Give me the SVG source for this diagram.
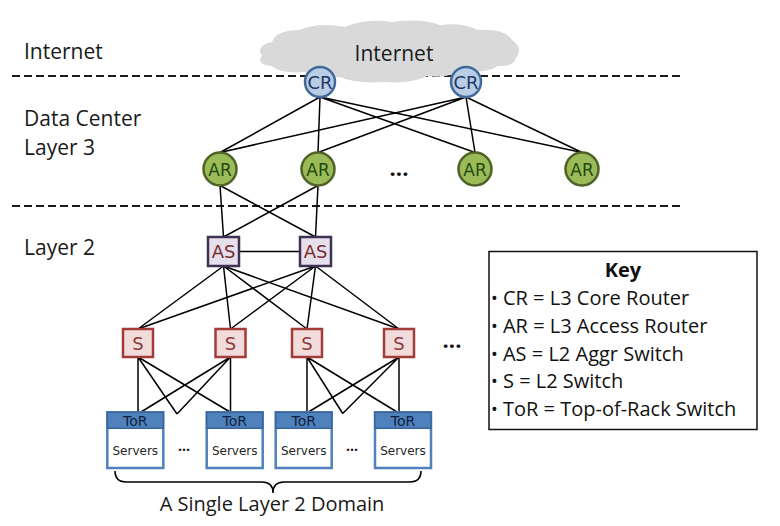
<svg xmlns="http://www.w3.org/2000/svg" width="780" height="526" viewBox="0 0 780 526">
<style>
.lbl{font-family:"Open Sans","Liberation Sans",sans-serif;font-size:21px;fill:#1a1a1a}
.key{font-family:"Open Sans","Liberation Sans",sans-serif;font-size:20px;fill:#111}
.b{font-size:18px}
.dash{stroke:#1a1a1a;stroke-width:2;stroke-dasharray:8 4;fill:none}
.ln{stroke:#000;stroke-width:1.5;fill:none}
.nt{font-family:"DejaVu Sans","Liberation Sans",sans-serif;text-anchor:middle}
.cr{fill:#b9cde5;stroke:#41699b;stroke-width:2.5}
.ar{fill:#9bbb59;stroke:#4f6228;stroke-width:2.5}
.as{fill:#e5e0ec;stroke:#3f3151;stroke-width:2.5}
.s{fill:#f2dcdb;stroke:#a33b38;stroke-width:2.5}
.tb{fill:#fff;stroke:#4f81bd;stroke-width:2.5}
.th{fill:#4f81bd;stroke:#3b659a;stroke-width:1.5}
.dots{font-family:"Open Sans","Liberation Sans",sans-serif;font-weight:bold;text-anchor:middle;fill:#111}
</style>
<rect width="780" height="526" fill="#fff"/>
<g id="layers">
<line class="dash" x1="12" y1="76" x2="680" y2="76"/>
<line class="dash" x1="12" y1="206" x2="680" y2="206"/>
<text class="lbl" x="24" y="59">Internet</text>
<text class="lbl" x="24" y="126">Data Center</text>
<text class="lbl" x="24" y="155">Layer 3</text>
<text class="lbl" x="24" y="255">Layer 2</text>
</g>
<g id="cloud">
<path d="M262,56 Q255,46 272,42 Q276,30 300,30 Q318,22 345,27 Q365,18 392,22 Q420,18 440,25 Q462,22 478,30 Q505,28 512,40 Q524,48 516,58 Q515,66 498,66 Q485,74 460,71 Q445,79 428,76 Q410,84 385,82 Q355,84 340,77 Q320,78 305,72 Q280,74 272,66 Q255,64 262,56 Z" fill="#d9d9d9"/>
<text class="lbl" x="394" y="61" text-anchor="middle">Internet</text>
</g>
<g id="connectors">
<path class="ln" d="M320,97 L220,152.5 M320,97 L318,152.5 M320,97 L475,152.5 M320,97 L582,152.5"/>
<path class="ln" d="M466,97 L220,152.5 M466,97 L318,152.5 M466,97 L475,152.5 M466,97 L582,152.5"/>
<path class="ln" d="M220,185.5 L223.5,237 M220,185.5 L315.5,237 M318,185.5 L223.5,237 M318,185.5 L315.5,237"/>
<path class="ln" d="M239,251.5 L300,251.5"/>
<path class="ln" d="M223.5,266 L138,329 M223.5,266 L230.5,329 M223.5,266 L307,329 M223.5,266 L399,329"/>
<path class="ln" d="M315.5,266 L138,329 M315.5,266 L230.5,329 M315.5,266 L307,329 M315.5,266 L399,329"/>
<path class="ln" d="M138,357 L138,412 M138,357 L177,414 M138,357 L230,412"/>
<path class="ln" d="M230.5,357 L230.5,412 M230.5,357 L177,414 M230.5,357 L141,412"/>
<path class="ln" d="M307,357 L307,412 M307,357 L342.7,413.5 M307,357 L397,412"/>
<path class="ln" d="M399,357 L399,412 M399,357 L342.7,413.5 M399,357 L308.5,412"/>
</g>
<g id="CR1"><circle class="cr" cx="320" cy="82" r="15"/><text class="nt" x="320" y="88.5" font-size="18" fill="#1f3864">CR</text></g>
<g id="CR2"><circle class="cr" cx="466" cy="82" r="15"/><text class="nt" x="466" y="88.5" font-size="18" fill="#1f3864">CR</text></g>
<g id="AR1"><circle class="ar" cx="220" cy="169" r="16.5"/><text class="nt" x="220" y="175.5" font-size="17" fill="#234a10">AR</text></g>
<g id="AR2"><circle class="ar" cx="318" cy="169" r="16.5"/><text class="nt" x="318" y="175.5" font-size="17" fill="#234a10">AR</text></g>
<g id="AR3"><circle class="ar" cx="475" cy="169" r="16.5"/><text class="nt" x="475" y="175.5" font-size="17" fill="#234a10">AR</text></g>
<g id="AR4"><circle class="ar" cx="582" cy="169" r="16.5"/><text class="nt" x="582" y="175.5" font-size="17" fill="#234a10">AR</text></g>
<text class="dots" x="399" y="176" font-size="22">...</text>
<g id="AS1"><rect class="as" x="208" y="237" width="31" height="29"/><text class="nt" x="223.5" y="258" font-size="18" fill="#7b2e2e">AS</text></g>
<g id="AS2"><rect class="as" x="300" y="237" width="31" height="29"/><text class="nt" x="315.5" y="258" font-size="18" fill="#7b2e2e">AS</text></g>
<g id="S1"><rect class="s" x="123" y="329" width="30" height="28"/><text class="nt" x="138" y="349.5" font-size="18" fill="#8b3a3a">S</text></g>
<g id="S2"><rect class="s" x="215.5" y="329" width="30" height="28"/><text class="nt" x="230.5" y="349.5" font-size="18" fill="#8b3a3a">S</text></g>
<g id="S3"><rect class="s" x="292" y="329" width="30" height="28"/><text class="nt" x="307" y="349.5" font-size="18" fill="#8b3a3a">S</text></g>
<g id="S4"><rect class="s" x="384" y="329" width="30" height="28"/><text class="nt" x="399" y="349.5" font-size="18" fill="#8b3a3a">S</text></g>
<text class="dots" x="452" y="348" font-size="22">...</text>
<g id="ToR1"><rect class="tb" x="107.3" y="412.3" width="56" height="55.7"/><rect class="th" x="107.3" y="412.3" width="56" height="16"/><text class="nt" x="135.3" y="426" font-size="14" fill="#0f1f3d">ToR</text><text class="nt" x="135.3" y="454.5" font-size="12" fill="#262626">Servers</text></g>
<g id="ToR2"><rect class="tb" x="206.7" y="412.3" width="56" height="55.7"/><rect class="th" x="206.7" y="412.3" width="56" height="16"/><text class="nt" x="234.7" y="426" font-size="14" fill="#0f1f3d">ToR</text><text class="nt" x="234.7" y="454.5" font-size="12" fill="#262626">Servers</text></g>
<g id="ToR3"><rect class="tb" x="275.7" y="412.3" width="56" height="55.7"/><rect class="th" x="275.7" y="412.3" width="56" height="16"/><text class="nt" x="303.7" y="426" font-size="14" fill="#0f1f3d">ToR</text><text class="nt" x="303.7" y="454.5" font-size="12" fill="#262626">Servers</text></g>
<g id="ToR4"><rect class="tb" x="375" y="412.3" width="56" height="55.7"/><rect class="th" x="375" y="412.3" width="56" height="16"/><text class="nt" x="403" y="426" font-size="14" fill="#0f1f3d">ToR</text><text class="nt" x="403" y="454.5" font-size="12" fill="#262626">Servers</text></g>
<text class="dots" x="184" y="451" font-size="14">...</text>
<text class="dots" x="352" y="451" font-size="14">...</text>
<g id="domain">
<path class="ln" d="M115,471 Q115,482 126,482 L262,482 Q273,482 273,493 Q273,482 284,482 L410,482 Q421,482 421,471"/>
<text class="lbl" x="272" y="511" text-anchor="middle" style="font-size:20px">A Single Layer 2 Domain</text>
</g>
<g id="key">
<rect x="489" y="251.5" width="268" height="178" fill="#fff" stroke="#111" stroke-width="1.5"/>
<text class="key" x="623" y="277" text-anchor="middle" font-weight="bold">Key</text>
<text class="key" x="491" y="305"><tspan class="b">•</tspan> CR = L3 Core Router</text>
<text class="key" x="491" y="333"><tspan class="b">•</tspan> AR = L3 Access Router</text>
<text class="key" x="491" y="361"><tspan class="b">•</tspan> AS = L2 Aggr Switch</text>
<text class="key" x="491" y="388"><tspan class="b">•</tspan> S = L2 Switch</text>
<text class="key" x="491" y="416"><tspan class="b">•</tspan> ToR = Top-of-Rack Switch</text>
</g>
</svg>
